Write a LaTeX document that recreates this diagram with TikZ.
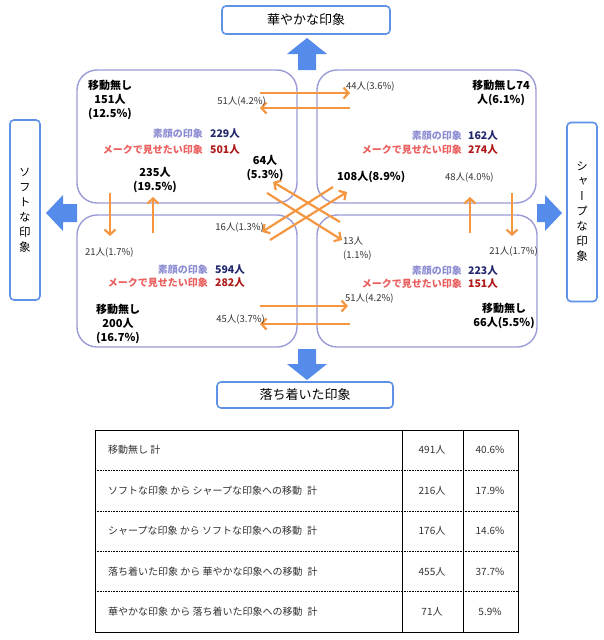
\documentclass[tikz,border=0pt]{standalone}
\usepackage{fontspec}
\setmainfont{Noto Sans CJK JP}
\newfontfamily\vertfont[RawFeature=+vert]{Noto Sans CJK JP}
\usetikzlibrary{arrows.meta,positioning}

\definecolor{quadline}{RGB}{155,155,215}
\definecolor{sideblue}{RGB}{95,145,230}
\definecolor{arrowblue}{RGB}{85,140,235}
\definecolor{floworange}{RGB}{245,150,65}
\definecolor{sugaolab}{RGB}{140,140,210}
\definecolor{sugaonum}{RGB}{35,40,110}
\definecolor{makelab}{RGB}{235,95,95}
\definecolor{makenum}{RGB}{175,25,25}
\definecolor{cntgray}{RGB}{50,50,50}

\tikzset{
  quad/.style={draw=quadline, line width=1.4pt, rounded corners=20pt},
  impbox/.style={draw=sideblue, line width=1.6pt, rounded corners=4pt, fill=white, inner sep=0pt,
    font=\fontsize{13}{15}\selectfont},
  vimpbox/.style={impbox, align=center, font={\vertfont\fontsize{11.5}{15}\selectfont}},
  bigarrow/.style={fill=arrowblue},
  flow/.style={draw=floworange, line width=2.2pt, -{Straight Barb[length=5pt,width=11pt]}},
  cnt/.style={font=\fontsize{9.5}{14}\selectfont, text=cntgray, inner sep=0pt},
  bcnt/.style={font=\fontsize{11}{14}\selectfont\bfseries, inner sep=0pt, align=center},
  sugao/.style={font=\fontsize{10}{12}\selectfont\bfseries, text=sugaolab, inner sep=0pt, anchor=east},
  make/.style={sugao, text=makelab},
  snum/.style={font=\fontsize{10.5}{12}\selectfont\bfseries, text=sugaonum, inner sep=0pt},
  mnum/.style={snum, text=makenum},
  cell/.style={font=\fontsize{10}{12}\selectfont, text=cntgray, inner sep=0pt}
}

\begin{document}
\begin{tikzpicture}[x=1pt, y=-1pt]
  \useasboundingbox (0,0) rectangle (603,640);

  % impression boxes and big arrows
  \node[impbox, minimum width=168pt, minimum height=28pt] (hanayaka) at (306,20) {華やかな印象};
  \node[impbox, minimum width=176pt, minimum height=26pt] (ochitsuki) at (305,395) {落ち着いた印象};
  \node[vimpbox, minimum width=30pt, minimum height=180pt] (soft) at (25,210) {ソ\\フ\\ト\\な\\印\\象};
  \node[vimpbox, minimum width=30pt, minimum height=179pt] (sharp) at (582,212) {シ\\ャ\\ー\\プ\\な\\印\\象};

  \fill[bigarrow] (298,70) -- (298,54) -- (287,54) -- (307,38) -- (327,54) -- (316,54) -- (316,70) -- cycle;
  \fill[bigarrow] (298,349) -- (298,364) -- (287,364) -- (307,380) -- (327,364) -- (316,364) -- (316,349) -- cycle;
  \fill[bigarrow] (77,204) -- (63,204) -- (63,195) -- (46,213) -- (63,231) -- (63,222) -- (77,222) -- cycle;
  \fill[bigarrow] (537,204) -- (545,204) -- (545,195) -- (562,213) -- (545,231) -- (545,222) -- (537,222) -- cycle;

  % quadrants
  \draw[quad] (77,70) rectangle (297,203);
  \draw[quad] (317,70) rectangle (536,203);
  \draw[quad] (77,215) rectangle (297,347);
  \draw[quad] (317,215) rectangle (537,347);

  % flow ends
  \coordinate (ht1) at (260,93);  \coordinate (ht2) at (350,93);
  \coordinate (ht3) at (350,108); \coordinate (ht4) at (260,108);
  \coordinate (hb1) at (260,306); \coordinate (hb2) at (348,306);
  \coordinate (hb3) at (350,324); \coordinate (hb4) at (260,324);
  \coordinate (vl1) at (110,193); \coordinate (vl2) at (110,236);
  \coordinate (vl3) at (153,233); \coordinate (vl4) at (153,197);
  \coordinate (vr1) at (470,233); \coordinate (vr2) at (470,197);
  \coordinate (vr3) at (512,193); \coordinate (vr4) at (512,236);
  \coordinate (d1) at (340,222);  \coordinate (d2) at (273,182);
  \coordinate (d3) at (267,193);  \coordinate (d4) at (342,240);
  \coordinate (d5) at (270,240);  \coordinate (d6) at (347,192);
  \coordinate (d7) at (333,187);  \coordinate (d8) at (262,232);
  \foreach \s/\e in {ht1/ht2,ht3/ht4,hb1/hb2,hb3/hb4,vl1/vl2,vl3/vl4,vr1/vr2,vr3/vr4,d1/d2,d3/d4,d5/d6,d7/d8}
    \draw[flow] (\s) -- (\e);

  % upper left
  \node[bcnt] (stayTL) at (110,100) {移動無し\\151人\\(12.5\%)};
  \node[sugao] (sTL) at (203,134) {素顔の印象};
  \node[snum, right=7pt of sTL] (sTLn) {229人};
  \node[make] (mTL) at (203,150) {メークで見せたい印象};
  \node[mnum, right=7pt of mTL] (mTLn) {501人};
  \node[bcnt] (upL) at (155,180) {235人\\(19.5\%)};
  \node[bcnt] (crossTL) at (265,168) {64人\\(5.3\%)};
  \node[cnt, anchor=east] (topL) at (266,102) {51人(4.2\%)};

  % upper right
  \node[cnt, anchor=west] (topR) at (346,87) {44人(3.6\%)};
  \node[bcnt] (stayTR) at (501,93) {移動無し74\\人(6.1\%)};
  \node[sugao] (sTR) at (462,136) {素顔の印象};
  \node[snum, right=6pt of sTR] (sTRn) {162人};
  \node[make] (mTR) at (462,150) {メークで見せたい印象};
  \node[mnum, right=6pt of mTR] (mTRn) {274人};
  \node[bcnt, anchor=west] (crossTR) at (337,177) {108人(8.9\%)};
  \node[cnt, anchor=west] (upR) at (445,178) {48人(4.0\%)};

  % lower left
  \node[cnt, anchor=east] (crossBL) at (264,228) {16人(1.3\%)};
  \node[cnt, anchor=west] (downL) at (85,253) {21人(1.7\%)};
  \node[sugao] (sBL) at (208,270) {素顔の印象};
  \node[snum, right=7pt of sBL] (sBLn) {594人};
  \node[make] (mBL) at (208,283) {メークで見せたい印象};
  \node[mnum, right=7pt of mBL] (mBLn) {282人};
  \node[bcnt] (stayBL) at (118,324) {移動無し\\200人\\(16.7\%)};
  \node[cnt, anchor=east] (botL) at (265,320) {45人(3.7\%)};

  % lower right
  \node[cnt, align=left, anchor=north west] (crossBR) at (343,237) {13人\\(1.1\%)};
  \node[cnt, anchor=east] (downR) at (538,252) {21人(1.7\%)};
  \node[sugao] (sBR) at (462,271) {素顔の印象};
  \node[snum, right=6pt of sBR] (sBRn) {223人};
  \node[make] (mBR) at (462,284) {メークで見せたい印象};
  \node[mnum, right=6pt of mBR] (mBRn) {151人};
  \node[cnt, anchor=west] (botR) at (345,299) {51人(4.2\%)};
  \node[bcnt] (stayBR) at (504,316) {移動無し\\66人(5.5\%)};

  % table
  \draw[line width=1pt] (95,430) rectangle (518,632);
  \draw[line width=0.9pt] (402,430) -- (402,632) (463,430) -- (463,632);
  \foreach \y in {470.4,510.8,551.2,591.6}
    \draw[densely dotted, line width=0.6pt] (95,\y) -- (518,\y);
  \foreach \txt/\num/\pct [count=\i] in {
      移動無し 計/491人/40.6\%,
      ソフトな印象 から シャープな印象への移動\enspace 計/216人/17.9\%,
      シャープな印象 から ソフトな印象への移動\enspace 計/176人/14.6\%,
      落ち着いた印象 から 華やかな印象への移動\enspace 計/455人/37.7\%,
      華やかな印象 から 落ち着いた印象への移動\enspace 計/71人/5.9\%} {
    \node[cell, anchor=west] (row\i) at (108,{450.2+40.4*(\i-1)}) {\txt};
    \node[cell] (num\i) at (432,{450.2+40.4*(\i-1)}) {\num};
    \node[cell] (pct\i) at (490,{450.2+40.4*(\i-1)}) {\pct};
  }
\end{tikzpicture}
\end{document}
